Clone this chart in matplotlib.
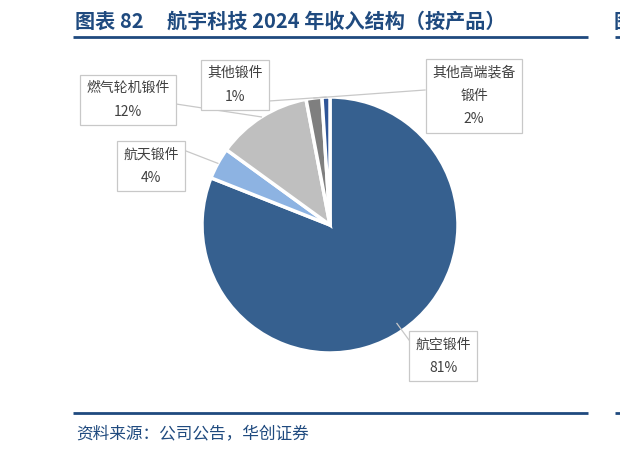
import matplotlib.pyplot as plt
import numpy as np

plt.rcParams['font.family'] = ['Noto Sans CJK SC', 'DejaVu Sans']

# data
labels = ['航空锻件', '航天锻件', '燃气轮机锻件', '其他高端装备锻件', '其他锻件']
box_text = ['航空锻件\n81%', '航天锻件\n4%', '燃气轮机锻件\n12%', '其他高端装备\n锻件\n2%', '其他锻件\n1%']
shares = [81, 4, 12, 2, 1]
colors = ['#36608F', '#8DB3E2', '#BFBFBF', '#7F7F7F', '#2F5597']

# label box centres in pixel coords (y from top) and where the leader leaves the box
box_xy = [(443, 356), (151, 166), (128, 100), (474, 96), (235, 85)]
leave_xy = [(409, 340), (186, 151), (176, 104), (425, 90), (269, 101)]

W, H = 620, 454
fig = plt.figure(figsize=(6.2, 4.54), dpi=100)
ax = fig.add_axes([0, 0, 1, 1])

cx, cy, r = 330, H - 225, 128
wedges, _ = ax.pie(shares, colors=colors, startangle=90, counterclock=False,
                   center=(cx, cy), radius=r, frame=True,
                   wedgeprops=dict(edgecolor='white', linewidth=2.5))
ax.set_xlim(0, W)
ax.set_ylim(0, H)
ax.axis('off')

navy = '#1F4A7F'
line_c = '#C8C8C8'
for w, txt, (bx, by), (lx, ly) in zip(wedges, box_text, box_xy, leave_xy):
    mid = np.deg2rad((w.theta1 + w.theta2) / 2)
    rr = r * 0.93 if txt.startswith('航空') else r
    px, py = cx + rr * np.cos(mid), cy + rr * np.sin(mid)
    ax.plot([lx, px], [H - ly, py], color=line_c, lw=0.9, zorder=3)
    ax.text(bx, H - by, txt, ha='center', va='center', fontsize=10,
            color='#404040', linespacing=1.85, zorder=4,
            bbox=dict(boxstyle='square,pad=0.45', fc='white', ec=line_c, lw=0.9))

# title, rules and source
fig.text(75 / W, 1 - 21 / H, '图表 82', fontsize=14.5, fontweight='bold',
         color=navy, va='center', ha='left')
fig.text(167 / W, 1 - 21 / H, '航宇科技 2024 年收入结构（按产品）',
         fontsize=14.5, fontweight='bold', color=navy, va='center', ha='left')
fig.text(614 / W, 1 - 21 / H, '图', fontsize=14.5, fontweight='bold',
         color=navy, va='center', ha='left', clip_on=False)
for y in (37, 413):
    ax.plot([73, 588], [H - y, H - y], color=navy, lw=2, solid_capstyle='butt')
    ax.plot([615, 620], [H - y, H - y], color=navy, lw=2, solid_capstyle='butt')
fig.text(76 / W, 1 - 434 / H, '资料来源：公司公告，华创证券', fontsize=12,
         color=navy, va='center', ha='left', style='italic')

fig.savefig('out.png', dpi=100)
